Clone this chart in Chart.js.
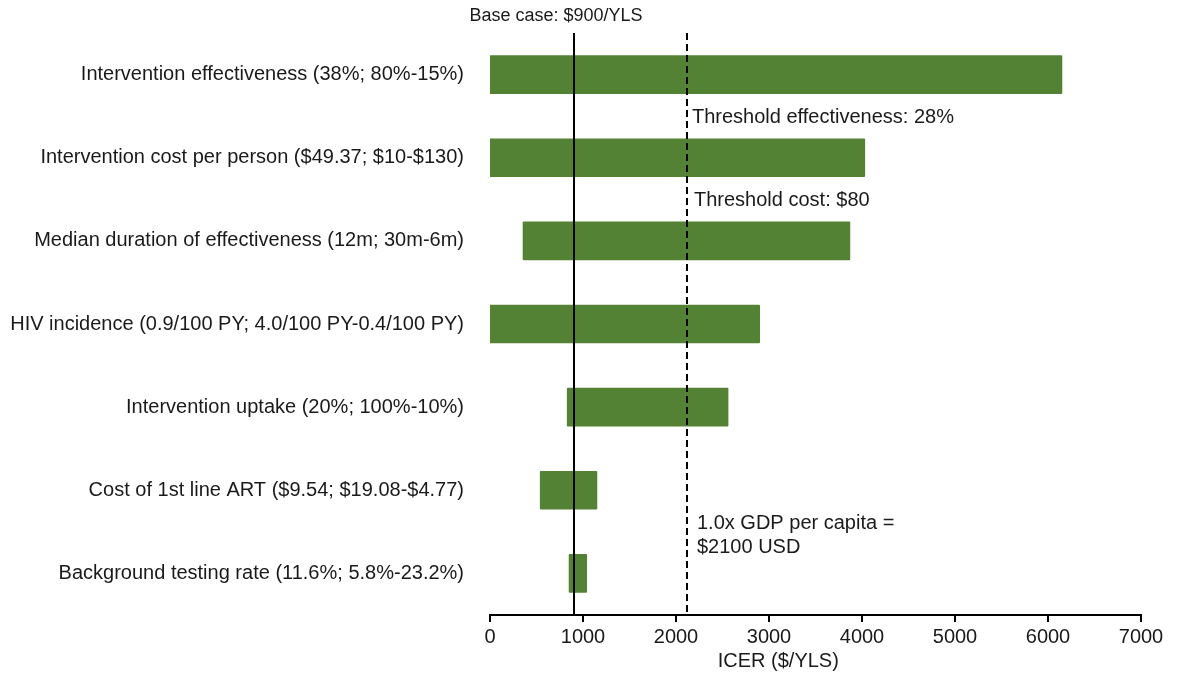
<!DOCTYPE html>
<html>
<head>
<meta charset="utf-8">
<script src="https://cdn.jsdelivr.net/npm/chart.js@4.4.1/dist/chart.umd.min.js"></script>
<style>
  html, body { margin: 0; padding: 0; background: #fff; }
  #wrap { width: 1177px; height: 675px; position: relative; }
</style>
</head>
<body>
<div id="wrap"><canvas id="chart"></canvas></div>
<script>
// tornado data, ICER ($/YLS)
const categories = [
  "Intervention effectiveness (38%; 80%-15%)",
  "Intervention cost per person ($49.37; $10-$130)",
  "Median duration of effectiveness (12m; 30m-6m)",
  "HIV incidence (0.9/100 PY; 4.0/100 PY-0.4/100 PY)",
  "Intervention uptake (20%; 100%-10%)",
  "Cost of 1st line ART ($9.54; $19.08-$4.77)",
  "Background testing rate (11.6%; 5.8%-23.2%)"
];
const lowValues = [-10, -10, 355, -10, 830, 540, 850];
const highValues = [6150, 4030, 3870, 2900, 2560, 1150, 1040];
const xTicks = [0, 1000, 2000, 3000, 4000, 5000, 6000, 7000];

const baseCase = 900;
const gdpThreshold = 2120;

const FONT = "'Liberation Sans', Arial, sans-serif";

// reference lines + text notes
const refLines = {
  id: "refLines",
  afterDatasetsDraw(chart) {
    const { ctx, chartArea, scales } = chart;
    const x = scales.x, y = scales.y;
    ctx.save();
    // base case line
    let px = Math.round(x.getPixelForValue(baseCase));
    ctx.strokeStyle = "#000";
    ctx.lineWidth = 2;
    ctx.beginPath();
    ctx.moveTo(px, chartArea.top);
    ctx.lineTo(px, chartArea.bottom);
    ctx.stroke();
    // GDP threshold
    let gx = Math.round(x.getPixelForValue(gdpThreshold));
    ctx.setLineDash([7, 4]);
    ctx.beginPath();
    ctx.moveTo(gx, chartArea.top);
    ctx.lineTo(gx, chartArea.bottom);
    ctx.stroke();
    ctx.setLineDash([]);

    ctx.fillStyle = "#1a1a1a";
    ctx.textBaseline = "middle";
    ctx.textAlign = "center";
    ctx.font = "18px " + FONT;
    ctx.fillText("Base case: $900/YLS", px - 18, 16);
    ctx.font = "20px " + FONT;
    // axis title, sits left of centre like the original
    ctx.fillText("ICER ($/YLS)", x.getPixelForValue(3100), 661);
    ctx.textAlign = "left";
    ctx.fillText("Threshold effectiveness: 28%", gx + 5, y.getPixelForValue(0.5) + 1);
    ctx.fillText("Threshold cost: $80", gx + 7, y.getPixelForValue(1.5) + 1);
    ctx.fillText("1.0x GDP per capita =", gx + 10, y.getPixelForValue(5.4));
    ctx.fillText("$2100 USD", gx + 10, y.getPixelForValue(5.4) + 24);
    ctx.restore();
  }
};

new Chart(document.getElementById("chart"), {
  type: "bar",
  data: {
    labels: categories,
    datasets: [{
      data: categories.map((c, i) => [lowValues[i], highValues[i]]),
      backgroundColor: "#548235",
      borderWidth: 0,
      borderSkipped: false,
      borderRadius: 1,
      barThickness: 38
    }]
  },
  options: {
    indexAxis: "y",
    responsive: true,
    maintainAspectRatio: false,
    animation: false,
    layout: { padding: { top: 33, right: 36, bottom: 23, left: 0 } },
    plugins: { legend: { display: false }, tooltip: { enabled: false } },
    scales: {
      x: {
        min: 0,
        max: 7000,
        afterBuildTicks: s => { s.ticks = xTicks.map(v => ({ value: v })); },
        grid: { drawOnChartArea: false, drawTicks: true, tickLength: 7, color: "#000", lineWidth: 2 },
        border: { display: true, color: "#000", width: 2 },
        ticks: { color: "#1a1a1a", font: { family: FONT, size: 20 }, padding: 3, maxRotation: 0, callback: v => String(v) },
        title: { display: false }
      },
      y: {
        afterFit: s => { s.width = 490; },
        grid: { display: false },
        border: { display: false },
        ticks: { color: "#1a1a1a", font: { family: FONT, size: 20 }, padding: 18 }
      }
    }
  },
  plugins: [refLines]
});
</script>
</body>
</html>
